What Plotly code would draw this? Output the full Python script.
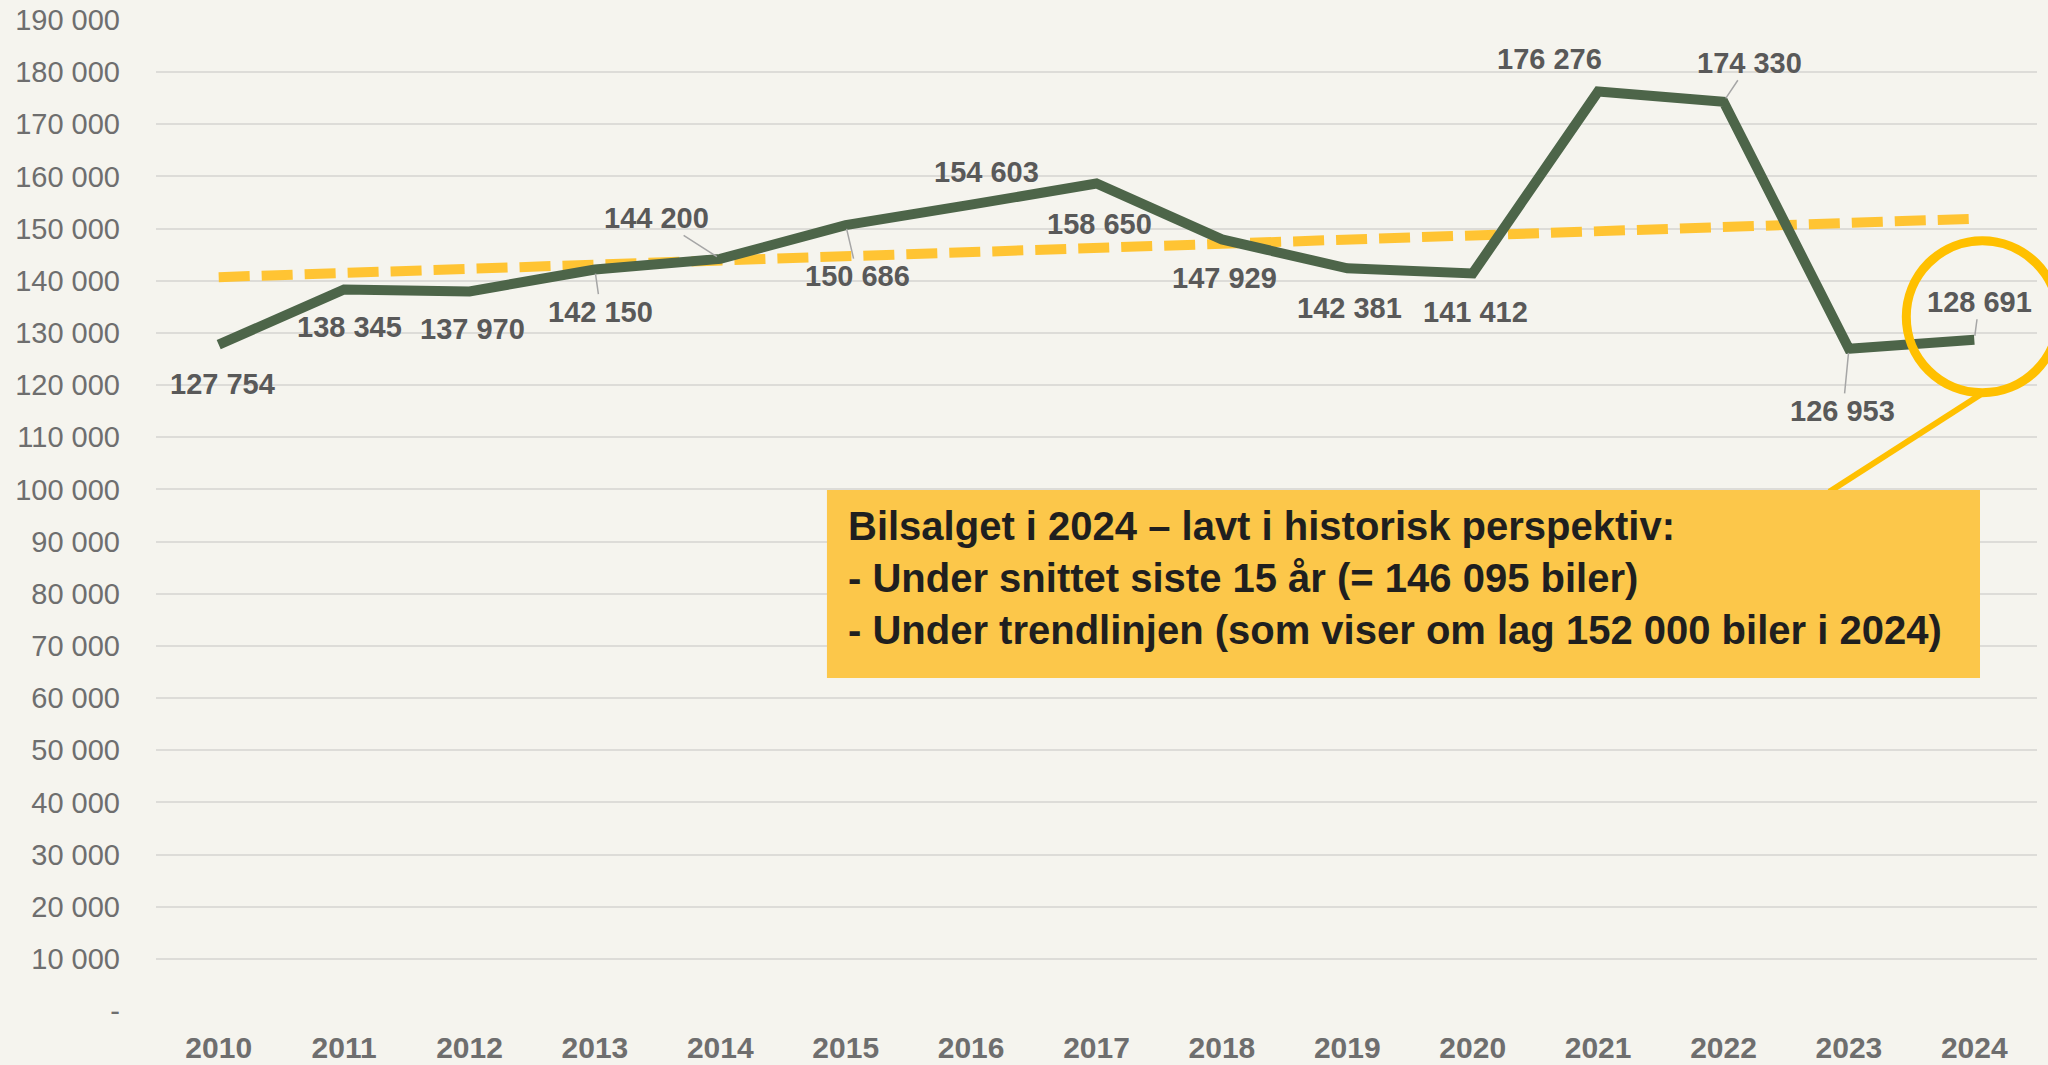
import plotly.graph_objects as go

# data
years = ["2010", "2011", "2012", "2013", "2014", "2015", "2016", "2017",
         "2018", "2019", "2020", "2021", "2022", "2023", "2024"]
sales = [127754, 138345, 137970, 142150, 144200, 150686, 154603, 158650,
         147929, 142381, 141412, 176276, 174330, 126953, 128691]
trend_years = ["2010", "2024"]
trend_values = [140700, 151900]
y_max = 190000
y_ticks = list(range(0, y_max + 1, 10000))
y_tick_text = ["-"] + [f"{v // 1000} 000" for v in y_ticks[1:]]

callout_lines = [
    "Bilsalget i 2024 – lavt i historisk perspektiv:",
    "- Under snittet siste 15 år (= 146 095 biler)",
    "- Under trendlinjen (som viser om lag 152 000 biler i 2024)",
]

# label offsets in pixels (dx, dy up), leader flag
label_pos = [
    (4, -39, False), (5, -38, False), (3, -38, False), (6, -42, True),
    (-64, 41, True), (12, -51, True), (15, 33, False), (3, -40, False),
    (3, -39, False), (2, -40, False), (3, -39, False), (-49, 33, False),
    (26, 39, True), (-6, -62, True), (5, 38, True),
]

BG = "#F5F4EE"
GREEN = "#4D6549"
YELLOW = "#FFC433"
LABEL_FONT = dict(family="Liberation Sans, Arial, sans-serif", size=29,
                  color="#595959", weight="bold")

fig = go.Figure()

fig.add_trace(go.Scatter(
    x=trend_years, y=trend_values, mode="lines",
    line=dict(color=YELLOW, width=10, dash="31px,12px"),
    hoverinfo="skip",
))
fig.add_trace(go.Scatter(
    x=years, y=sales, mode="lines",
    line=dict(color=GREEN, width=10),
))


def fmt(v):
    return f"{v:,}".replace(",", " ")


# category index is used for x, since year strings would be read as numbers
for i, (v, (dx, dy, leader)) in enumerate(zip(sales, label_pos)):
    if leader:
        fig.add_annotation(
            x=i, y=v, text=fmt(v), font=LABEL_FONT,
            showarrow=True, arrowhead=0, arrowwidth=1.5, arrowcolor="#A6A6A6",
            ax=dx, ay=-dy, standoff=4,
        )
    else:
        fig.add_annotation(
            x=i, y=v, text=fmt(v), font=LABEL_FONT,
            showarrow=False, xshift=dx, yshift=dy,
        )

# highlight circle and pointer around 2024 (paper refs so it can spill past the plot)
last = len(years) - 1
px_anchor = (last + 0.5) / len(years)
py_anchor = sales[-1] / y_max
fig.add_shape(
    type="circle", xref="paper", yref="paper", xsizemode="pixel", ysizemode="pixel",
    xanchor=px_anchor, yanchor=py_anchor, x0=8 - 76, x1=8 + 76, y0=23 - 76, y1=23 + 76,
    line=dict(color="#FFC000", width=9), layer="above",
)
fig.add_shape(
    type="line", xref="paper", yref="paper", xsizemode="pixel", ysizemode="pixel",
    xanchor=px_anchor, yanchor=py_anchor, x0=6, y0=-55, x1=-145, y1=-152,
    line=dict(color="#FFC000", width=6), layer="above",
)

# callout box
fig.add_shape(
    type="rect", xref="paper", yref="paper",
    x0=0.3567, x1=0.9697, y0=0.336, y1=0.5257,
    fillcolor="#FCC74A", line=dict(width=0), layer="above",
)
fig.add_annotation(
    xref="paper", yref="paper", x=0.3668, y=0.437, xanchor="left", yanchor="middle",
    align="left", showarrow=False, text="<br>".join(callout_lines),
    font=dict(family="Liberation Sans Narrow, Arial Narrow, Liberation Sans", size=40,
              color="#1F1F1F", weight="bold"),
)

fig.update_layout(
    width=2048, height=1065,
    paper_bgcolor=BG, plot_bgcolor=BG,
    margin=dict(l=156, r=11, t=20, b=54),
    showlegend=False,
    xaxis=dict(
        type="category", categoryorder="array", categoryarray=years,
        range=[-0.5, last + 0.5], automargin=False,
        showgrid=False, zeroline=False, showline=False,
        tickfont=dict(family="Liberation Sans, Arial", size=30, color="#6E6E6E", weight="bold"),
        ticks="", ticklabelstandoff=16,
    ),
    yaxis=dict(
        range=[0, y_max], tickvals=y_ticks, ticktext=y_tick_text, automargin=False,
        showgrid=True, gridcolor="#DDDCD8", gridwidth=2, zeroline=False,
        tickfont=dict(family="Liberation Sans, Arial", size=29, color="#6E6E6E"),
        ticks="", ticklabelstandoff=35,
    ),
)

fig.write_html("out.html", config={"displayModeBar": False},
               post_script="document.body.style.margin='0';")
